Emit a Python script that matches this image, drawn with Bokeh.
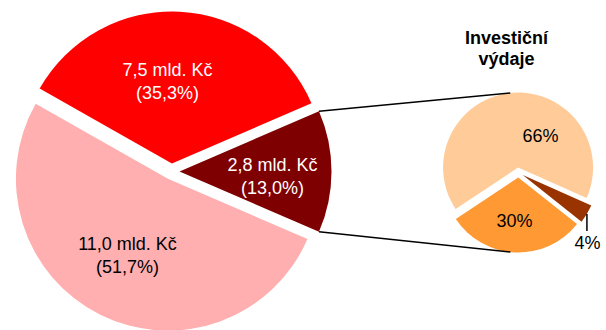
import math
from bokeh.plotting import figure
from bokeh.models import Range1d
from bokeh.core.properties import value
from bokeh.embed import file_html
from bokeh.resources import INLINE

# ---- data ----
main_names = ["2,8 mld. Kč", "7,5 mld. Kč", "11,0 mld. Kč"]
main_pcts = ["(13,0%)", "(35,3%)", "(51,7%)"]
main_shares = [13.0, 35.3, 51.7]
main_colors = ["#7F0000", "#FF0000", "#FFAFAF"]
main_text_colors = ["white", "white", "black"]

sub_title = ["Investiční", "výdaje"]
sub_labels = ["4%", "66%", "30%"]
sub_shares = [4, 66, 30]
sub_colors = ["#993300", "#FFCC99", "#FF9933"]

# ---- layout (pixel space) ----
W, H = 606, 330
def px(X, Y):
    return X, H - Y

MC = (171, 171)
MR = 152
MEXP = 8
SC = (518, 172)
SR = 75
SEXP = 5
SUB_START = 321.6

FONT = value("Liberation Sans")

p = figure(width=W, height=H, x_range=Range1d(0, W), y_range=Range1d(0, H),
           output_backend="svg", toolbar_location=None, min_border=0)
p.axis.visible = False
p.grid.visible = False
p.outline_line_color = None
p.background_fill_color = "white"

# main pie
total = sum(main_shares)
start = -main_shares[0] / total * 180.0
main_geo = []
cx0, cy0 = px(*MC)
for share, col in zip(main_shares, main_colors):
    span = share / total * 360.0
    end = start + span
    mid = math.radians((start + end) / 2)
    cx = cx0 + MEXP * math.cos(mid)
    cy = cy0 + MEXP * math.sin(mid)
    p.wedge(x=cx, y=cy, radius=MR, start_angle=math.radians(start),
            end_angle=math.radians(end), fill_color=col, line_color=None)
    main_geo.append((cx, cy, start, end))
    start = end

# secondary pie
stot = sum(sub_shares)
start = SUB_START
sub_geo = []
sx0, sy0 = px(*SC)
for share, col in zip(sub_shares, sub_colors):
    span = share / stot * 360.0
    end = start + span
    mid = math.radians((start + end) / 2)
    cx = sx0 + SEXP * math.cos(mid)
    cy = sy0 + SEXP * math.sin(mid)
    p.wedge(x=cx, y=cy, radius=SR, start_angle=math.radians(start),
            end_angle=math.radians(end), fill_color=col, line_color=None)
    sub_geo.append((cx, cy, start, end))
    start = end

# connector lines
dcx, dcy, ds, de = main_geo[0]
top0 = (dcx + MR * math.cos(math.radians(de)), dcy + MR * math.sin(math.radians(de)))
bot0 = (dcx + MR * math.cos(math.radians(ds)), dcy + MR * math.sin(math.radians(ds)))
pcx, pcy = sub_geo[1][0], sub_geo[1][1]
ocx, ocy = sub_geo[2][0], sub_geo[2][1]
top1 = (pcx + SR * math.cos(math.radians(96)), pcy + SR * math.sin(math.radians(96)))
bot1 = (ocx + SR * math.cos(math.radians(264)), ocy + SR * math.sin(math.radians(264)))
p.segment(x0=[top0[0], bot0[0]], y0=[top0[1], bot0[1]],
          x1=[top1[0], bot1[0]], y1=[top1[1], bot1[1]],
          line_color="black", line_width=1.5)

# leader for small slice
bcx, bcy, bs, be = sub_geo[0]
bm = math.radians((bs + be) / 2)
lx = bcx + SR * math.cos(bm)
ly = bcy + SR * math.sin(bm)
p.segment(x0=[lx], y0=[ly], x1=[lx], y1=[ly - 17], line_color="black", line_width=1.5)

# main labels (pixel coords of two-line block centre)
main_label_pos = [(272, 175.5), (167, 80), (127, 254)]
for (X, Y), n, pc, tc in zip(main_label_pos, main_names, main_pcts, main_text_colors):
    x1, y1 = px(X, Y - 11)
    x2, y2 = px(X, Y + 12)
    p.text(x=[x1, x2], y=[y1, y2], text=[n, pc], text_align="center",
           text_baseline="middle", text_font=FONT, text_font_size="18px",
           text_color=tc)

# sub labels
sub_label_pos = [(587, 242), (540, 135), (514, 220)]
for (X, Y), t in zip(sub_label_pos, sub_labels):
    x, y = px(X, Y)
    p.text(x=[x], y=[y], text=[t], text_align="center", text_baseline="middle",
           text_font=FONT, text_font_size="18px", text_color="black")

# sub title
for i, t in enumerate(sub_title):
    x, y = px(506, 37 + 21 * i)
    p.text(x=[x], y=[y], text=[t], text_align="center", text_baseline="middle",
           text_font=FONT, text_font_size="18px", text_font_style="bold",
           text_color="black")

open("out.html", "w").write(file_html(p, INLINE))
